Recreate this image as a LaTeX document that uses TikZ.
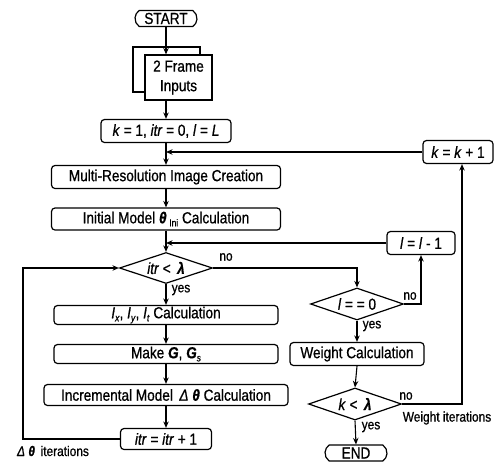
\documentclass[tikz,border=0pt]{standalone}
\usepackage{fontspec}
\setmainfont{Liberation Sans}[FakeStretch=0.85,FakeBold=0.8]
\usetikzlibrary{arrows.meta,shapes.geometric,shapes.misc}
\newcommand\ff{\fontsize{16}{19.5}\selectfont}
\newcommand\sm{\fontsize{14}{16}\selectfont}
\newcommand\subt[1]{\raisebox{-3pt}{\fontsize{10}{10}\selectfont #1}}
\begin{document}
\begin{tikzpicture}[x=1pt,y=-1pt,
  line width=1.1pt,
  >={Stealth[length=6.5pt,width=5.5pt]},
  box/.style={draw,rounded corners=3.5pt,inner sep=0pt,font=\ff,line width=1.2pt},
  plain/.style={draw,inner sep=0pt,font=\ff,align=center,line width=1.2pt,fill=white},
  term/.style={draw,rounded rectangle,rounded rectangle arc length=110,inner sep=0pt,minimum width=62pt,minimum height=16pt,font=\ff,line width=1.2pt},
  dia/.style={draw,diamond,inner sep=0pt,line width=1.2pt},
  txt/.style={inner sep=0pt,font=\ff},
  lbl/.style={inner sep=0pt,font=\sm}]
\useasboundingbox (0,0) rectangle (497,461);
% main column
\node[term] (start) at (166,18.5) {START};
\node[plain,minimum width=67pt,minimum height=45pt] (frameb) at (166.5,69.5) {};
\node[plain,minimum width=67pt,minimum height=45pt] (frame) at (178.5,77.5) {2 Frame\\Inputs};
\node[box,minimum width=130pt,minimum height=23pt] (k1) at (166,131) {\textit{k} = 1, \textit{itr} = 0, \textit{l} = \textit{L}};
\node[box,minimum width=229pt,minimum height=23pt] (multi) at (166,177) {Multi-Resolution Image Creation};
\node[box,minimum width=229pt,minimum height=22pt] (init) at (166,219) {Initial Model \textbf{\textit{θ}}\,\subt{Ini} Calculation};
\node[dia,minimum width=93pt,minimum height=31pt] (d1) at (166,268) {};
\node[txt] (d1t) at (d1) {\textit{itr} <\, \textbf{\textit{λ}}};
\node[box,minimum width=224pt,minimum height=19pt] (ix) at (166,315) {\textit{I}\subt{\textit{x}}, \textit{I}\subt{\textit{y}}, \textit{I}\subt{\textit{t}} Calculation};
\node[box,minimum width=224pt,minimum height=19pt] (mg) at (166,354) {Make \textbf{\textit{G}}, \textbf{\textit{G}}\subt{\textit{s}}};
\node[box,minimum width=244pt,minimum height=21pt] (inc) at (166,395) {Incremental Model \,\textit{Δ} \textbf{\textit{θ}} Calculation};
\node[box,minimum width=91pt,minimum height=21pt] (itr) at (166,439) {\textit{itr} = \textit{itr} + 1};
% right column
\node[box,minimum width=70pt,minimum height=23pt] (kk1) at (458,152) {\textit{k} = \textit{k} + 1};
\node[box,minimum width=68pt,minimum height=23pt] (lm1) at (421,243) {\textit{l} = \textit{l} - 1};
\node[dia,minimum width=93pt,minimum height=32pt] (l0) at (357,304) {};
\node[txt] (l0t) at (l0) {\textit{l} = = 0};
\node[box,minimum width=134pt,minimum height=23pt] (wc) at (357,354) {Weight Calculation};
\node[dia,minimum width=93pt,minimum height=32pt] (d2) at (355,404) {};
\node[txt] (d2t) at (d2) {\textit{k} <\, \textbf{\textit{λ}}};
\node[term] (end) at (356,453) {END};
% labels
\node[lbl] (no1) at (226,257) {no};
\node[lbl] (yes1) at (181,290) {yes};
\node[lbl] (no2) at (410,296) {no};
\node[lbl] (yes2) at (372,326) {yes};
\node[lbl] (no3) at (406,396) {no};
\node[lbl] (yes3) at (371,427) {yes};
\node[lbl] (witer) at (447,418) {Weight iterations};
\node[lbl] (diter) at (53,451) {\textit{Δ} \textbf{\textit{θ}}\, iterations};
% coordinates
\coordinate (lp) at (23,439);
\coordinate (rk) at (462,404);
% connectors
\draw[->] (start.south) -- (start.south |- frame.north);
\draw[->] (start.south |- frame.south) -- (k1.north);
\draw[->] (k1.south) -- (multi.north);
\draw[->] (kk1.west) -- (kk1.west -| k1.south);
\draw[->] (multi.south) -- (init.north);
\draw[->] (init.south) -- (d1.north);
\draw[->] (lm1.west) -- (lm1.west -| d1.north);
\draw[->] (d1.south) -- (ix.north);
\draw[->] (ix.south) -- (mg.north);
\draw[->] (mg.south) -- (inc.north);
\draw[->] (inc.south) -- (itr.north);
\draw[->] (itr.west) -- (lp) |- (d1.west);
\draw[->] (d1.east) -| (l0.north);
\draw[->] (l0.east) -| (lm1.south);
\draw[->] (l0.south) -- (wc.north);
\draw[->] (wc.south) -- (d2.north);
\draw[->] (d2.east) -- (rk) -- (rk |- kk1.south);
\draw[->] (d2.south) -- (end.north);
\end{tikzpicture}
\end{document}
